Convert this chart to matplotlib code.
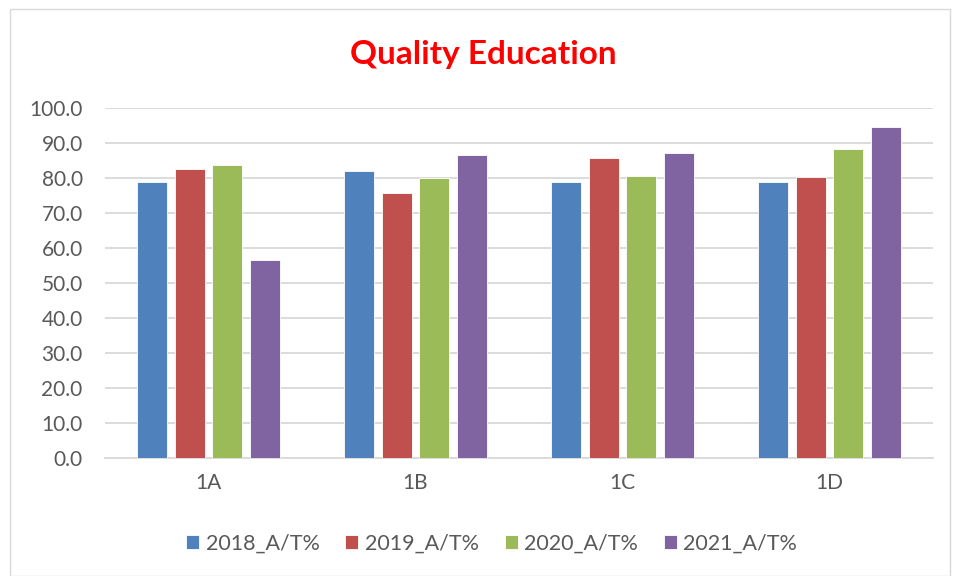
import numpy as np
import matplotlib.pyplot as plt
from matplotlib.patches import Rectangle

# Data
categories = ['1A', '1B', '1C', '1D']
series_names = ['2018_A/T%', '2019_A/T%', '2020_A/T%', '2021_A/T%']
v2018 = [78.8, 81.9, 78.8, 78.8]
v2019 = [82.4, 75.6, 85.6, 80.2]
v2020 = [83.6, 80.0, 80.5, 88.1]
v2021 = [56.5, 86.4, 87.0, 94.6]
colors = ['#4F81BD', '#C0504D', '#9BBB59', '#8064A2']

plt.rcParams['font.family'] = ['Lato', 'DejaVu Sans']

fig = plt.figure(figsize=(9.54, 5.76), dpi=100)
fig.patches.append(Rectangle((0.011, 0.0), 0.985, 0.985, transform=fig.transFigure,
                             fill=False, edgecolor='#D9D9D9', linewidth=1))
ax = fig.add_axes([0.110, 0.205, 0.868, 0.608])

x = np.arange(len(categories))
pitch = 0.182
width = 0.145
for i, (vals, name) in enumerate(zip([v2018, v2019, v2020, v2021], series_names)):
    ax.bar(x + (i - 1.5) * pitch, vals, width, color=colors[i], label=name,
           edgecolor='white', linewidth=0.6, zorder=3)

ax.set_ylim(0, 100)
ax.set_xlim(-0.5, 3.5)
ax.set_yticks(np.arange(0, 101, 10))
ax.set_yticklabels([f'{v:.1f}' for v in np.arange(0, 101, 10)])
ax.set_xticks(x)
ax.set_xticklabels(categories)
ax.tick_params(axis='both', length=0, labelsize=15, labelcolor='#595959')
ax.tick_params(axis='y', pad=16)
ax.tick_params(axis='x', pad=11)
ax.grid(axis='y', color='#D9D9D9', linewidth=1.3, zorder=0)
for s in ['top', 'right', 'left']:
    ax.spines[s].set_visible(False)
ax.spines['bottom'].set_color('#D9D9D9')
ax.spines['bottom'].set_linewidth(1.3)

fig.text(0.507, 0.906, 'Quality Education', ha='center', va='center',
         fontsize=24, fontweight='bold', color='#FF0000')

ax.legend(loc='center', bbox_to_anchor=(0.467, -0.245), ncol=4, frameon=False,
          fontsize=15.5, labelcolor='#595959', handlelength=0.6, handleheight=0.6,
          handletextpad=0.3, columnspacing=1.2)

fig.savefig('out.png', dpi=100)
